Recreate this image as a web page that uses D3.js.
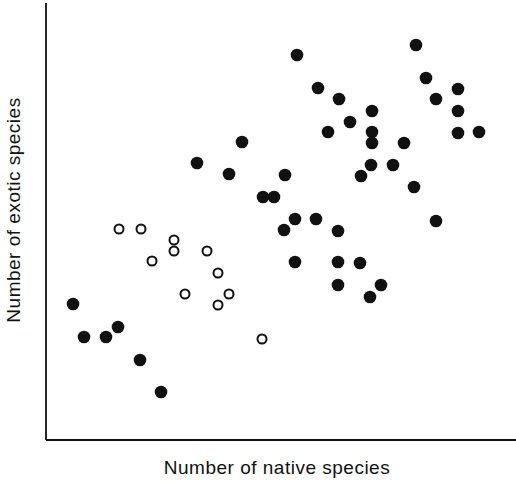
<!DOCTYPE html>
<html>
<head>
<meta charset="utf-8">
<script src="https://cdn.jsdelivr.net/npm/d3@7"></script>
<style>
  body { margin: 0; background: #fff; }
  text { font-family: "Liberation Sans", Arial, sans-serif; fill: #111; }
</style>
</head>
<body>
<div id="chart"></div>
<script>
// native vs exotic species counts
const filledNative = [25.1, 37.0, 27.2, 29.3, 32.6, 30.4, 28.2, 32.6, 32.6, 35.8, 32.5, 34.7, 31.5, 23.9, 21.7,
  22.8, 24.9, 27.0, 23.8, 29.2, 36.8, 39.0, 38.0, 39.0, 41.2, 41.2, 41.2, 43.3, 15.1, 19.6, 18.3,
  24.9, 29.2, 31.4, 29.2, 33.5, 32.4, 2.7, 3.8, 6.0, 7.2, 9.4, 11.5];
const filledExotic = [38.5, 39.5, 35.2, 34.1, 32.9, 31.8, 30.8, 30.8, 29.7, 29.7, 27.5, 27.5, 26.4, 26.5, 24.3,
  24.3, 22.1, 22.1, 21.0, 20.9, 25.3, 21.9, 36.2, 34.1, 35.1, 32.9, 30.7, 30.8, 27.7, 29.8, 26.6,
  17.8, 17.8, 17.7, 15.5, 15.5, 14.3, 13.6, 10.3, 10.3, 11.3, 8.0, 4.8];

const openNative = [7.3, 9.5, 12.8, 12.8, 10.6, 16.1, 17.2, 13.9, 17.2, 18.3, 21.6];
const openExotic = [21.1, 21.1, 20.0, 18.9, 17.9, 18.9, 16.7, 14.6, 13.5, 14.6, 10.1];

const xLabel = "Number of native species";
const yLabel = "Number of exotic species";

const width = 516, height = 482;
const svg = d3.select("#chart").append("svg")
  .attr("width", width)
  .attr("height", height);

const x = d3.scaleLinear().domain([0, 47]).range([46, 516]);
const y = d3.scaleLinear().domain([0, 44]).range([440, 0]);

// axes: plain lines, no ticks
svg.append("line")
  .attr("x1", x(0)).attr("x2", x(0))
  .attr("y1", 3).attr("y2", y(0))
  .attr("stroke", "#111").attr("stroke-width", 1.8);
svg.append("line")
  .attr("x1", x(0)).attr("x2", width)
  .attr("y1", y(0)).attr("y2", y(0))
  .attr("stroke", "#111").attr("stroke-width", 1.8);

const filled = filledNative.map((v, i) => ({ n: v, e: filledExotic[i] }));
const open = openNative.map((v, i) => ({ n: v, e: openExotic[i] }));

svg.append("g")
  .selectAll("circle")
  .data(filled)
  .join("circle")
  .attr("cx", d => x(d.n))
  .attr("cy", d => y(d.e))
  .attr("r", 6.3)
  .style("fill", "#111");

svg.append("g")
  .selectAll("circle")
  .data(open)
  .join("circle")
  .attr("cx", d => x(d.n))
  .attr("cy", d => y(d.e))
  .attr("r", 4.5)
  .style("fill", "#fff")
  .style("stroke", "#111")
  .style("stroke-width", 2);

svg.append("text")
  .attr("x", 277)
  .attr("y", 474)
  .attr("text-anchor", "middle")
  .style("font-size", "19px")
  .style("letter-spacing", "0.5px")
  .text(xLabel);

svg.append("text")
  .attr("transform", "translate(20,210) rotate(-90)")
  .attr("text-anchor", "middle")
  .style("font-size", "19px")
  .style("letter-spacing", "0.5px")
  .text(yLabel);
</script>
</body>
</html>
